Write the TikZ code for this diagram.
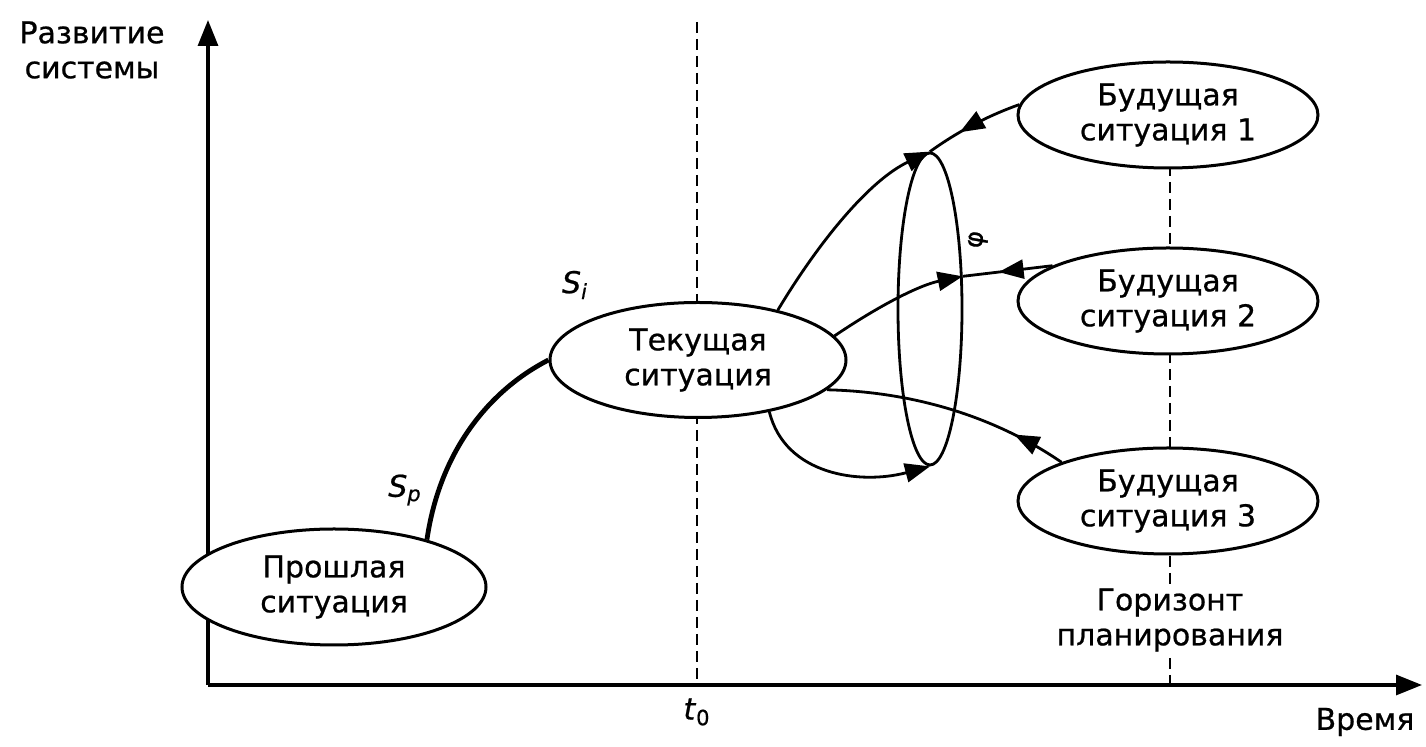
\documentclass[tikz,border=0pt]{standalone}
\usepackage{fontspec}
\setmainfont{DejaVu Sans}
\newfontfamily\medfont[FakeBold=0.7]{DejaVu Sans}
\usetikzlibrary{arrows.meta,shapes.geometric,decorations.markings}
\begin{document}
\begin{tikzpicture}[x=0.5pt,y=-0.5pt,
  lbl/.style={font=\fontsize{15}{17.5}\medfont, align=center},
  sit/.style={ellipse, draw, fill=white, line width=1.5pt, inner sep=0pt, lbl},
  ln/.style={line width=1.4pt},
  dsh/.style={line width=1.4pt, dash pattern=on 5.5pt off 3pt},
  tip/.style={-{Triangle[length=12.5pt,width=9.5pt]}},
  midarrow/.style={postaction={decorate},decoration={markings,mark=at position #1 with {\arrow{Triangle[length=12.5pt,width=9.5pt]}}}},
]
\useasboundingbox (0,0) rectangle (1426,747);

% axes
\coordinate (O) at (208,685);
\coordinate (ytop) at (208,20);
\coordinate (xend) at (1422,685);
\draw[line width=1.6pt, -{Triangle[length=13pt,width=10pt]}] (O) -- (ytop);
\draw[line width=1.6pt, -{Triangle[length=13pt,width=10pt]}] (O) -- (xend);

% dashed lines
\coordinate (t0top) at (697,22);
\coordinate (t0bot) at (697,685);
\draw[dsh] (t0top) -- (t0bot);
\coordinate (h1) at (1170,165);
\coordinate (h2) at (1170,685);
\draw[dsh] (h1) -- (h2);

% situations
\node[sit, minimum width=152pt, minimum height=58pt] (past) at (334,587) {Прошлая\\ситуация};
\node[sit, minimum width=148pt, minimum height=57.5pt] (cur) at (698,360) {Текущая\\ситуация};
\node[sit, minimum width=150pt, minimum height=53pt] (f1) at (1168,115) {Будущая\\ситуация 1};
\node[sit, minimum width=150pt, minimum height=53pt] (f2) at (1168,301) {Будущая\\ситуация 2};
\node[sit, minimum width=150pt, minimum height=53pt] (f3) at (1168,501) {Будущая\\ситуация 3};

% ring
\node[ellipse, draw, line width=1.4pt, inner sep=0pt, minimum width=32pt, minimum height=156pt] (ring) at (930,309) {};

% connectors
\draw[line width=2.4pt] (past.27) .. controls (440,450) and (490,390) .. (cur.180);
\draw[ln,tip] (cur.32) .. controls (820,240) and (870,180) .. (ring.north);
\draw[ln,tip] (cur.10) .. controls (880,305) and (920,285) .. (ring.45);
\draw[ln,tip] (cur.-36) .. controls (785,475) and (860,485) .. (ring.south);
\draw[ln,midarrow=0.6] (f2.163) -- (ring.45);
\draw[ln,midarrow=0.65] (f1.176) .. controls (990,115) and (960,130) .. (ring.north);
\draw[ln,midarrow=0.22] (f3.160) .. controls (1000,420) and (920,392) .. (cur.-13);

% labels
\node[lbl, fill=white, inner sep=2pt] (hor) at (1170,620) {Горизонт\\планирования};
\node[lbl] (ylab) at (92,50) {Развитие\\системы};
\node[lbl] (tlab) at (1365,722) {Время};
\node[lbl] (t0) at (697,712) {\textit{t}\textsubscript{0}};
\node[lbl] (sp) at (405,490) {\textit{S\textsubscript{p}}};
\node[lbl] (si) at (575,285) {\textit{S\textsubscript{i}}};
\node[rotate=80, font=\fontsize{13}{13}\medfont] (mk) at (978,240) {φ};
\end{tikzpicture}
\end{document}
